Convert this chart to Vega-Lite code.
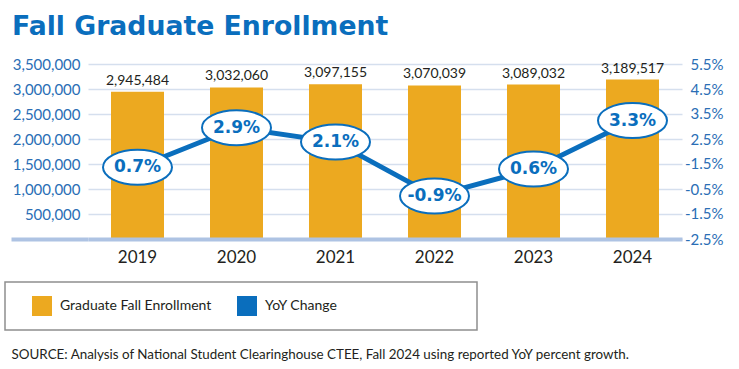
{
  "$schema": "https://vega.github.io/schema/vega-lite/v6.json",
  "width": 594,
  "height": 175,
  "autosize": {"type": "none"},
  "padding": {"left": 88, "top": 64, "right": 57, "bottom": 130},
  "background": "white",
  "config": {"view": {"stroke": null}},
  "title": {
    "text": "Fall Graduate Enrollment",
    "anchor": "start",
    "frame": "group",
    "dx": -76,
    "dy": 31,
    "offset": 26,
    "baseline": "alphabetic",
    "font": "DejaVu Sans",
    "fontSize": 26.7,
    "fontWeight": "bold",
    "color": "#0A6EBD"
  },
  "data": {
    "values": [
      {"year": "2019", "enrollment": 2945484, "yoy": 0.7, "yoy_label": "0.7%"},
      {"year": "2020", "enrollment": 3032060, "yoy": 2.9, "yoy_label": "2.9%"},
      {"year": "2021", "enrollment": 3097155, "yoy": 2.1, "yoy_label": "2.1%"},
      {"year": "2022", "enrollment": 3070039, "yoy": -0.9, "yoy_label": "-0.9%"},
      {"year": "2023", "enrollment": 3089032, "yoy": 0.6, "yoy_label": "0.6%"},
      {"year": "2024", "enrollment": 3189517, "yoy": 3.3, "yoy_label": "3.3%"}
    ]
  },
  "encoding": {
    "x": {
      "field": "year",
      "type": "ordinal",
      "scale": {"paddingInner": 0, "paddingOuter": 0},
      "axis": {
        "title": "SOURCE: Analysis of National Student Clearinghouse CTEE, Fall 2024 using reported YoY percent growth.",
        "titleAnchor": "start",
        "titleAlign": "left",
        "titleX": -77,
        "titleY": 119,
        "titleBaseline": "alphabetic",
        "titleFont": "Lato",
        "titleFontSize": 13.4,
        "titleFontWeight": "normal",
        "titleColor": "#231F20",
        "labelAngle": 0,
        "labelFont": "Lato",
        "labelFontSize": 17,
        "labelColor": "#231F20",
        "labelPadding": 10,
        "ticks": false,
        "grid": false,
        "domainColor": "#AEC3E3",
        "domainWidth": 4,
        "zindex": 1
      }
    }
  },
  "layer": [
    {
      "encoding": {
        "y": {
          "field": "enrollment",
          "type": "quantitative",
          "scale": {"domain": [0, 3500000], "nice": false},
          "axis": {
            "title": null,
            "values": [0, 500000, 1000000, 1500000, 2000000, 2500000, 3000000, 3500000],
            "format": ",d",
            "labelExpr": "datum.value === 0 ? '' : datum.label",
            "grid": true,
            "gridColor": "#D5DFEE",
            "gridWidth": 1.5,
            "domain": false,
            "ticks": true,
            "tickSize": 77,
            "tickWidth": 4,
            "tickColor": {"condition": {"test": "datum.value === 0", "value": "#AEC3E3"}, "value": "transparent"},
            "labelPadding": -69,
            "labelFont": "Lato",
            "labelFontSize": 15,
            "labelColor": "#2A6EB5"
          }
        }
      },
      "layer": [
        {
          "mark": {"type": "bar", "size": 53},
          "encoding": {
            "color": {
              "datum": "Graduate Fall Enrollment",
              "scale": {"domain": ["Graduate Fall Enrollment", "YoY Change"], "range": ["#ECA920", "#0A6EBD"]},
              "legend": {
                "orient": "none",
                "legendX": -83,
                "legendY": 218,
                "direction": "horizontal",
                "title": " ",
                "titleOrient": "right",
                "titlePadding": 126,
                "symbolType": "square",
                "symbolSize": 400,
                "symbolStrokeWidth": 0,
                "symbolOffset": 13,
                "labelFont": "Lato",
                "labelFontSize": 14,
                "labelColor": "#231F20",
                "labelOffset": 8,
                "columnPadding": 12,
                "padding": 14,
                "strokeColor": "#8F8F8F",
                "encode": {
                  "symbols": {"update": {"fill": {"scale": "color", "field": "value"}, "strokeWidth": {"value": 0}, "opacity": {"value": 1}}},
                  "legend": {"update": {"strokeWidth": {"value": 1.5}}}
                }
              }
            }
          }
        },
        {
          "mark": {"type": "text", "dy": -7, "baseline": "alphabetic", "font": "Lato", "fontSize": 14, "color": "#231F20"},
          "encoding": {"text": {"field": "enrollment", "type": "quantitative", "format": ","}}
        }
      ]
    },
    {
      "encoding": {
        "y": {
          "field": "yoy",
          "type": "quantitative",
          "scale": {"domain": [-3.3, 6.45], "nice": false, "zero": false},
          "axis": {
            "orient": "right",
            "title": null,
            "values": [-3.3, -1.9071, -0.5143, 0.8786, 2.2714, 3.6643, 5.0571, 6.45],
            "labelExpr": "datum.value > 6 ? '5.5%' : datum.value > 4.5 ? '4.5%' : datum.value > 3 ? '3.5%' : datum.value > 1.5 ? '2.5%' : datum.value > 0 ? '-1.5%' : datum.value > -1 ? '-0.5%' : datum.value > -2.5 ? '-1.5%' : '-2.5%'",
            "grid": false,
            "domain": false,
            "ticks": false,
            "labelAlign": "right",
            "labelPadding": 41,
            "labelFont": "Lato",
            "labelFontSize": 15,
            "labelColor": "#2A6EB5"
          }
        }
      },
      "layer": [
        {
          "mark": {"type": "line", "strokeWidth": 5},
          "encoding": {"color": {"datum": "YoY Change"}}
        },
        {
          "mark": {"type": "point", "shape": "M-1,0A1,0.507,0,1,0,1,0A1,0.507,0,1,0,-1,0Z", "size": 4761, "filled": true, "fill": "white", "stroke": "#0A6EBD", "strokeWidth": 2, "opacity": 1},
          "encoding": {}
        },
        {
          "mark": {"type": "text", "font": "DejaVu Sans", "fontWeight": "bold", "fontSize": 17, "color": "#0A6EBD", "baseline": "middle"},
          "encoding": {"text": {"field": "yoy_label"}}
        }
      ]
    }
  ],
  "resolve": {"scale": {"y": "independent"}}
}
